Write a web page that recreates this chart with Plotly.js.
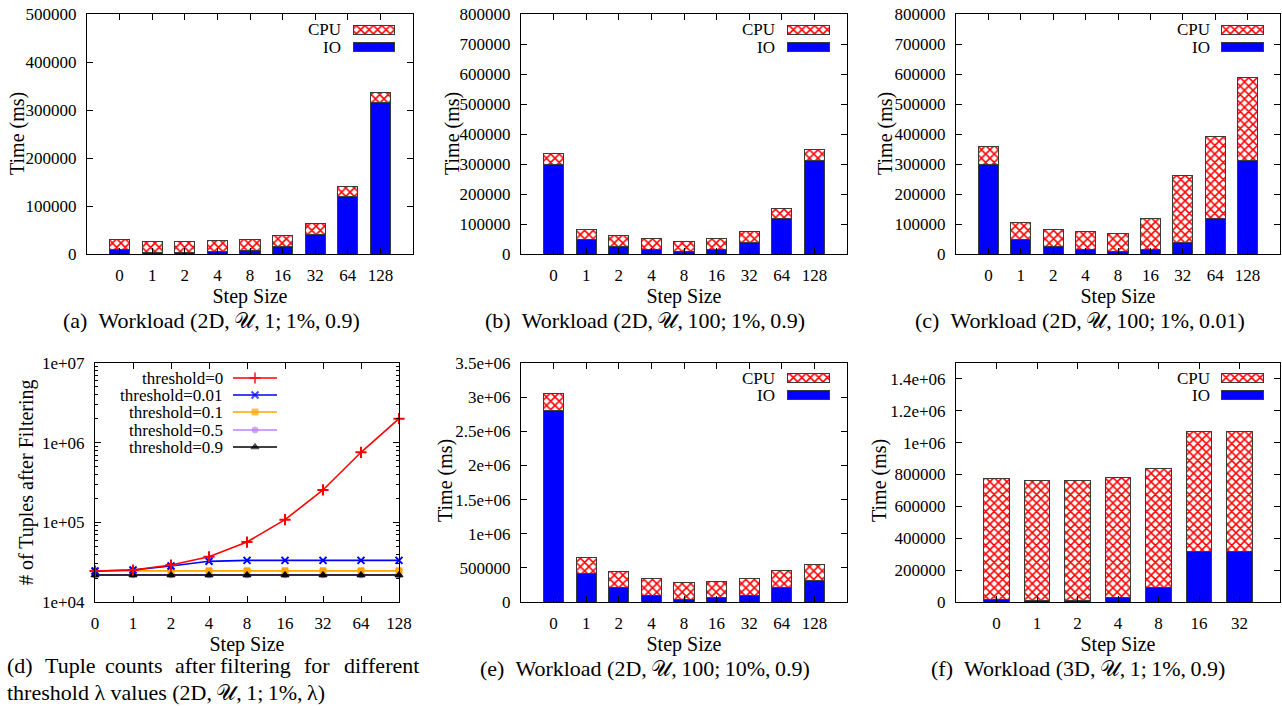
<!DOCTYPE html>
<html>
<head>
<meta charset="utf-8">
<script src="https://cdn.plot.ly/plotly-3.0.1.min.js"></script>
<style>html,body{margin:0;padding:0;background:#fff;}#plot{width:1282px;height:706px;}</style>
</head>
<body>
<div id="plot"></div>
<script>
// ---------- data ----------
var steps9 = ['0','1','2','4','8','16','32','64','128'];
var steps7 = ['0','1','2','4','8','16','32'];

// (a) Workload (2D,U,1;1%,0.9)
var ioA  = [10000, 3500, 3000, 6000, 8000, 15500, 41000, 119500, 315000];
var cpuA = [21000, 23000, 23500, 22500, 23000, 23500, 22000, 21500, 21000];
// (b) Workload (2D,U,100;1%,0.9)
var ioB  = [300000, 50000, 25600, 15500, 9000, 16500, 39000, 119000, 311000];
var cpuB = [35000, 33000, 36400, 35500, 34000, 34500, 36600, 33000, 37000];
// (c) Workload (2D,U,100;1%,0.01)
var ioC  = [300000, 50000, 25600, 15500, 9000, 16500, 39000, 119000, 311000];
var cpuC = [57000, 55600, 56400, 60100, 60000, 100500, 223500, 273600, 278500];
// (d) tuple counts after filtering
var thr0    = [24500, 25200, 29100, 37000, 56600, 108000, 255000, 757000, 2000000];
var thr001  = [24500, 25200, 28300, 32400, 33300, 33300, 33300, 33300, 33300];
var thr01   = [24600, 24600, 24600, 24600, 24600, 24600, 24600, 24600, 24600];
var thr05   = [21900, 21900, 21900, 21900, 21900, 21900, 21900, 21900, 21900];
var thr09   = [21800, 21800, 21800, 21800, 21800, 21800, 21800, 21800, 21800];
var thrNames = ['threshold=0', 'threshold=0.01', 'threshold=0.1', 'threshold=0.5', 'threshold=0.9'];
// (e) Workload (2D,U,100;10%,0.9)
var ioE  = [2800000, 420000, 210000, 102000, 44000, 63000, 98000, 210000, 317000];
var cpuE = [250000, 239000, 239000, 249000, 239000, 240000, 244000, 249000, 239000];
// (f) Workload (3D,U,1;1%,0.9)
var ioF  = [18800, 8400, 12500, 29000, 88000, 320000, 320000];
var cpuF = [754200, 751600, 749500, 752000, 750000, 752000, 752000];

// tick labels
var yTicksA = [0, 100000, 200000, 300000, 400000, 500000];
var yTextA  = ['0', '100000', '200000', '300000', '400000', '500000'];
var yTicksB = [0, 100000, 200000, 300000, 400000, 500000, 600000, 700000, 800000];
var yTextB  = ['0', '100000', '200000', '300000', '400000', '500000', '600000', '700000', '800000'];
var yTicksD = [1e4, 1e5, 1e6, 1e7];
var yTextD  = ['1e+04', '1e+05', '1e+06', '1e+07'];
var yTicksE = [0, 500000, 1000000, 1500000, 2000000, 2500000, 3000000, 3500000];
var yTextE  = ['0', '500000', '1e+06', '1.5e+06', '2e+06', '2.5e+06', '3e+06', '3.5e+06'];
var yTicksF = [0, 200000, 400000, 600000, 800000, 1000000, 1200000, 1400000];
var yTextF  = ['0', '200000', '400000', '600000', '800000', '1e+06', '1.2e+06', '1.4e+06'];
var seriesNames = ['CPU', 'IO'];

var captions = {
  a: '(a)\u00a0\u00a0Workload (2D,\u2009\uD835\uDCB0,\u20091;\u20091%,\u20090.9)',
  b: '(b)\u00a0\u00a0Workload (2D,\u2009\uD835\uDCB0,\u2009100;\u20091%,\u20090.9)',
  c: '(c)\u00a0\u00a0Workload (2D,\u2009\uD835\uDCB0,\u2009100;\u20091%,\u20090.01)',
  e: '(e)\u00a0\u00a0Workload (2D,\u2009\uD835\uDCB0,\u2009100;\u200910%,\u20090.9)',
  f: '(f)\u00a0\u00a0Workload (3D,\u2009\uD835\uDCB0,\u20091;\u20091%,\u20090.9)'
};
var captionD1 = ['(d)', 'Tuple', 'counts', 'after', 'filtering', 'for', 'different'];
var captionD2 = 'threshold \u03BB values (2D,\u2009\uD835\uDCB0,\u20091;\u20091%,\u2009\u03BB)';

// ---------- styling / layout ----------
var W = 1282, H = 706;
var FONT = 'Liberation Serif, Times New Roman, serif';
var TICK = 17, TITLE = 20, CAP = 22, LEG = 17;
function fx(p) { return p / W; }
function fy(p) { return 1 - p / H; }

var BLUE = '#0000ff', RED = '#ff0000';
var cpuPattern = {shape: 'x', fgcolor: RED, bgcolor: '#ffffff', size: 6, solidity: 0.45};
var barLine = {color: '#3a3a3a', width: 1};

var panels = [
  {id: 'a', xa: 'x',  ya: 'y',  x0: 87,  x1: 413,  y0: 14,  y1: 254},
  {id: 'b', xa: 'x2', ya: 'y2', x0: 521, x1: 847,  y0: 14,  y1: 254},
  {id: 'c', xa: 'x3', ya: 'y3', x0: 956, x1: 1280, y0: 14,  y1: 254},
  {id: 'd', xa: 'x4', ya: 'y4', x0: 95,  x1: 399,  y0: 363, y1: 602},
  {id: 'e', xa: 'x5', ya: 'y5', x0: 521, x1: 847,  y0: 363, y1: 602},
  {id: 'f', xa: 'x6', ya: 'y6', x0: 956, x1: 1280, y0: 363, y1: 602}
];

var traces = [];
function addBars(xa, ya, cats, io, cpu) {
  traces.push({type: 'bar', x: cats, y: io, xaxis: xa, yaxis: ya, name: seriesNames[1], width: 0.62,
    marker: {color: BLUE, line: barLine}, showlegend: false, hoverinfo: 'skip'});
  traces.push({type: 'bar', x: cats, y: cpu, xaxis: xa, yaxis: ya, name: seriesNames[0], width: 0.62,
    marker: {color: '#ffffff', pattern: cpuPattern, line: barLine}, showlegend: false, hoverinfo: 'skip'});
}
addBars('x', 'y', steps9, ioA, cpuA);
addBars('x2', 'y2', steps9, ioB, cpuB);
addBars('x3', 'y3', steps9, ioC, cpuC);
addBars('x5', 'y5', steps9, ioE, cpuE);
addBars('x6', 'y6', steps7, ioF, cpuF);

var lineStyles = [
  {color: '#ff0000', symbol: 'cross-thin', size: 8, lw: 2},
  {color: '#0000ff', symbol: 'x-thin', size: 7, lw: 2},
  {color: '#ffa500', symbol: 'square', size: 6, lw: 1},
  {color: '#c080ff', symbol: 'circle', size: 6, lw: 1},
  {color: '#000000', symbol: 'triangle-up', size: 7, lw: 1}
];
var thrSeries = [thr0, thr001, thr01, thr05, thr09];
// draw order: purple, orange, black, blue, red  (red on top)
[3, 2, 4, 1, 0].forEach(function (k) {
  var s = lineStyles[k];
  traces.push({type: 'scatter', mode: 'lines+markers', x: steps9, y: thrSeries[k], xaxis: 'x4', yaxis: 'y4',
    name: thrNames[k], line: {color: s.color, width: 1.6},
    marker: {symbol: s.symbol, size: s.size, color: s.color, line: {color: s.color, width: s.lw}},
    showlegend: false, hoverinfo: 'skip', cliponaxis: false});
});

// ---------- hand-made legends on a pixel overlay axis (x7/y7) ----------
var barLegends = [
  {tx: 343, sx0: 353, sx1: 394, cy: 30, iy: 47},
  {tx: 777, sx0: 787, sx1: 829, cy: 30, iy: 47},
  {tx: 1212, sx0: 1221, sx1: 1263, cy: 30, iy: 47},
  {tx: 777, sx0: 787, sx1: 829, cy: 378, iy: 395},
  {tx: 1212, sx0: 1221, sx1: 1263, cy: 378, iy: 395}
];
var annotations = [];
barLegends.forEach(function (L) {
  var cx = (L.sx0 + L.sx1) / 2, w = L.sx1 - L.sx0;
  traces.push({type: 'bar', x: [cx], y: [9], base: [L.cy - 4.5], width: [w], xaxis: 'x7', yaxis: 'y7',
    marker: {color: '#ffffff', pattern: cpuPattern, line: barLine}, showlegend: false, hoverinfo: 'skip'});
  traces.push({type: 'bar', x: [cx], y: [9], base: [L.iy - 4.5], width: [w], xaxis: 'x7', yaxis: 'y7',
    marker: {color: BLUE, line: barLine}, showlegend: false, hoverinfo: 'skip'});
  annotations.push({xref: 'paper', yref: 'paper', x: fx(L.tx), y: fy(L.cy), xanchor: 'right', yanchor: 'middle',
    text: seriesNames[0], showarrow: false, font: {family: FONT, size: LEG, color: '#000'}});
  annotations.push({xref: 'paper', yref: 'paper', x: fx(L.tx), y: fy(L.iy), xanchor: 'right', yanchor: 'middle',
    text: seriesNames[1], showarrow: false, font: {family: FONT, size: LEG, color: '#000'}});
});
var dLegY = [378, 395, 412, 430, 447];
lineStyles.forEach(function (s, k) {
  traces.push({type: 'scatter', mode: 'lines+markers', x: [233, 255, 277], y: [dLegY[k], dLegY[k], dLegY[k]],
    xaxis: 'x7', yaxis: 'y7', line: {color: s.color, width: 1.6},
    marker: {symbol: s.symbol, size: [0, s.size, 0], color: s.color, line: {color: s.color, width: s.lw}},
    showlegend: false, hoverinfo: 'skip'});
  annotations.push({xref: 'paper', yref: 'paper', x: fx(225), y: fy(dLegY[k]), xanchor: 'right', yanchor: 'middle',
    text: thrNames[k], showarrow: false, font: {family: FONT, size: LEG, color: '#000'}});
});

// ---------- axes ----------
var layout = {
  width: W, height: H, margin: {l: 0, r: 0, t: 0, b: 0},
  paper_bgcolor: '#ffffff', plot_bgcolor: 'rgba(0,0,0,0)',
  showlegend: false, barmode: 'stack', bargap: 0,
  font: {family: FONT, size: TICK, color: '#000'},
  annotations: annotations
};

function xAxis(p, nCats, range) {
  return {domain: [fx(p.x0), fx(p.x1)], anchor: p.ya, type: 'category', range: range,
    showline: true, linecolor: '#000', linewidth: 1, mirror: 'ticks', ticks: 'inside', ticklen: 6,
    tickcolor: '#000', showgrid: false, zeroline: false, ticklabelstandoff: 6,
    tickfont: {family: FONT, size: TICK, color: '#000'},
    title: {text: 'Step Size', font: {family: FONT, size: TITLE, color: '#000'}, standoff: 2}};
}
function yAxis(p, tv, tt, range, type) {
  var a = {domain: [fy(p.y1), fy(p.y0)], anchor: p.xa, range: range, type: type || 'linear',
    tickmode: 'array', tickvals: tv, ticktext: tt,
    showline: true, linecolor: '#000', linewidth: 1, mirror: 'ticks', ticks: 'inside', ticklen: 6,
    tickcolor: '#000', showgrid: false, zeroline: false, ticklabelstandoff: 6,
    tickfont: {family: FONT, size: TICK, color: '#000'}};
  return a;
}

layout.xaxis  = xAxis(panels[0], 9, [-1, 9]);
layout.xaxis2 = xAxis(panels[1], 9, [-1, 9]);
layout.xaxis3 = xAxis(panels[2], 9, [-1, 9]);
layout.xaxis4 = xAxis(panels[3], 9, [0, 8]);
layout.xaxis5 = xAxis(panels[4], 9, [-1, 9]);
layout.xaxis6 = xAxis(panels[5], 7, [-1, 7]);
layout.yaxis  = yAxis(panels[0], yTicksA, yTextA, [0, 500000]);
layout.yaxis2 = yAxis(panels[1], yTicksB, yTextB, [0, 800000]);
layout.yaxis3 = yAxis(panels[2], yTicksB, yTextB, [0, 800000]);
layout.yaxis4 = yAxis(panels[3], yTicksD, yTextD, [4, 7], 'log');
layout.yaxis4.minor = {ticks: 'inside', ticklen: 3, tickcolor: '#000',
  tickvals: [2e4,3e4,4e4,5e4,6e4,7e4,8e4,9e4,2e5,3e5,4e5,5e5,6e5,7e5,8e5,9e5,2e6,3e6,4e6,5e6,6e6,7e6,8e6,9e6]};
layout.yaxis5 = yAxis(panels[4], yTicksE, yTextE, [0, 3500000]);
layout.yaxis6 = yAxis(panels[5], yTicksF, yTextF, [0, 1500000]);
// pixel overlay axes for legends
layout.xaxis7 = {domain: [0, 1], anchor: 'y7', range: [0, W], visible: false, fixedrange: true};
layout.yaxis7 = {domain: [0, 1], anchor: 'x7', range: [H, 0], visible: false, fixedrange: true};

// y-axis titles (positioned like the original)
var yTitles = [
  {t: 'Time (ms)', x: 17, y: 134},
  {t: 'Time (ms)', x: 452, y: 134},
  {t: 'Time (ms)', x: 885, y: 134},
  {t: '# of Tuples after Filtering', x: 27, y: 482},
  {t: 'Time (ms)', x: 445, y: 481},
  {t: 'Time (ms)', x: 879, y: 481}
];
yTitles.forEach(function (o) {
  annotations.push({xref: 'paper', yref: 'paper', x: fx(o.x), y: fy(o.y), xanchor: 'center', yanchor: 'middle',
    textangle: -90, text: o.t, showarrow: false, font: {family: FONT, size: TITLE, color: '#000'}});
});

// captions
var capFont = {family: FONT, size: CAP, color: '#000'};
[['a', 211, 320], ['b', 645, 320], ['c', 1080, 320], ['e', 645, 668], ['f', 1078, 668]].forEach(function (c) {
  annotations.push({xref: 'paper', yref: 'paper', x: fx(c[1]), y: fy(c[2]), xanchor: 'center', yanchor: 'middle',
    text: captions[c[0]], showarrow: false, font: capFont});
});
var dWordX = [5, 43, 103, 173, 218, 302, 342];
captionD1.forEach(function (w, i) {
  annotations.push({xref: 'paper', yref: 'paper', x: fx(dWordX[i]), y: fy(665), xanchor: 'left', yanchor: 'middle',
    text: w, showarrow: false, font: capFont});
});
annotations.push({xref: 'paper', yref: 'paper', x: fx(5), y: fy(692), xanchor: 'left', yanchor: 'middle',
  text: captionD2, showarrow: false, font: capFont});

Plotly.newPlot('plot', traces, layout, {staticPlot: true, displayModeBar: false});
</script>
</body>
</html>
